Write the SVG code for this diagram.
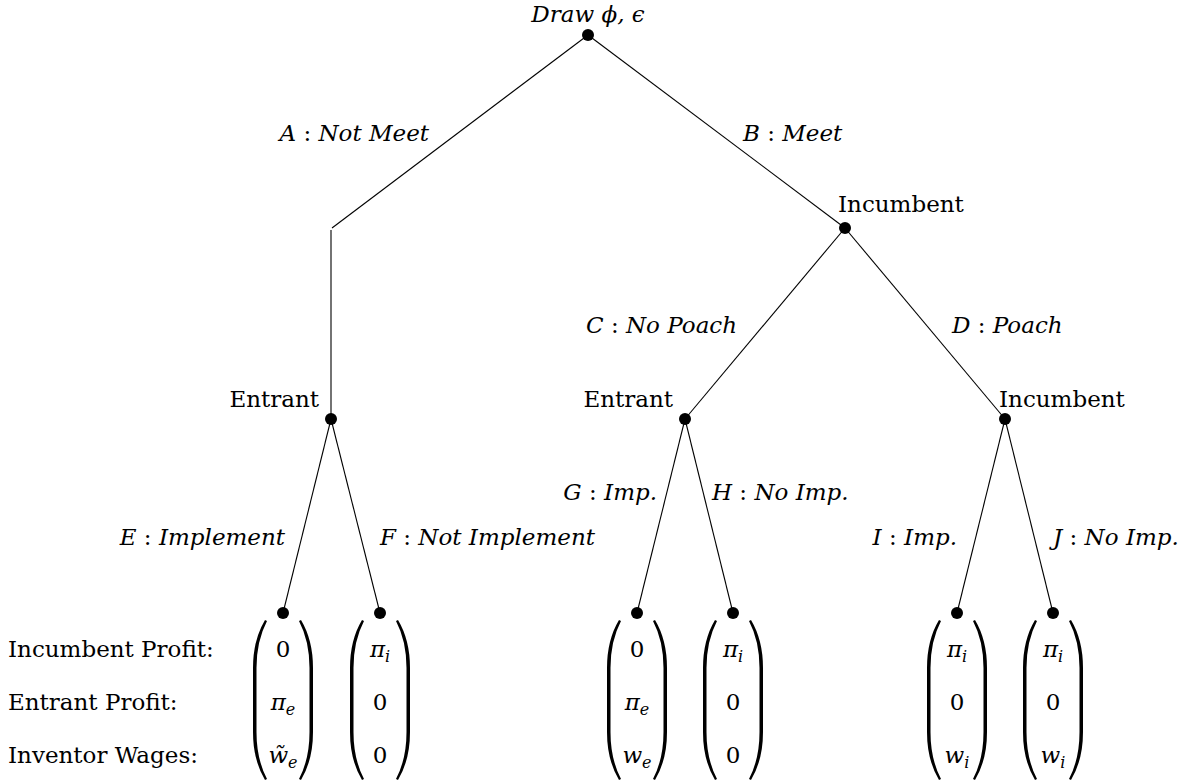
<svg xmlns="http://www.w3.org/2000/svg" xmlns:xlink="http://www.w3.org/1999/xlink" width="1193" height="782" viewBox="0 0 1193 782">
<style>
text{font-family:"DejaVu Serif","Liberation Serif",serif;font-size:23px;fill:#000}
.it{font-style:italic}
.rm{font-style:normal}
.sub{font-size:16px;font-style:italic}
.edge{stroke:#000;stroke-width:1.1;fill:none}
.dot{fill:#000}
</style>
<defs>
<path id="parens" fill="#000" d="M -18,620 Q -30,640 -30,668 L -30,732 Q -30,760 -18,780 L -16,779 Q -26.5,759 -26.5,732 L -26.5,668 Q -26.5,641 -16,621 Z M 18,620 Q 30,640 30,668 L 30,732 Q 30,760 18,780 L 16,779 Q 26.5,759 26.5,732 L 26.5,668 Q 26.5,641 16,621 Z"/>
</defs>
<rect width="1193" height="782" fill="#fff"/>
<g id="connectors">
<line class="edge" x1="588" y1="35" x2="332" y2="228"/>
<line class="edge" x1="331" y1="230" x2="331" y2="419"/>
<line class="edge" x1="588" y1="35" x2="845" y2="228"/>
<line class="edge" x1="845" y1="228" x2="685" y2="419"/>
<line class="edge" x1="845" y1="228" x2="1005" y2="419"/>
<line class="edge" x1="331" y1="419" x2="283" y2="613"/>
<line class="edge" x1="331" y1="419" x2="380" y2="613"/>
<line class="edge" x1="685" y1="419" x2="637" y2="613"/>
<line class="edge" x1="685" y1="419" x2="733" y2="613"/>
<line class="edge" x1="1005" y1="419" x2="957" y2="613"/>
<line class="edge" x1="1005" y1="419" x2="1053" y2="613"/>
</g>
<g id="edge-labels">
<text x="429" y="141" text-anchor="end"><tspan class="it">A</tspan><tspan class="rm"> : </tspan><tspan class="it">Not Meet</tspan></text>
<text x="743" y="141"><tspan class="it">B</tspan><tspan class="rm"> : </tspan><tspan class="it">Meet</tspan></text>
<text x="586" y="333"><tspan class="it">C</tspan><tspan class="rm"> : </tspan><tspan class="it">No Poach</tspan></text>
<text x="952" y="333"><tspan class="it">D</tspan><tspan class="rm"> : </tspan><tspan class="it">Poach</tspan></text>
<text x="285" y="545" text-anchor="end"><tspan class="it">E</tspan><tspan class="rm"> : </tspan><tspan class="it">Implement</tspan></text>
<text x="380" y="545"><tspan class="it">F</tspan><tspan class="rm"> : </tspan><tspan class="it">Not Implement</tspan></text>
<text x="657" y="500" text-anchor="end"><tspan class="it">G</tspan><tspan class="rm"> : </tspan><tspan class="it">Imp.</tspan></text>
<text x="712" y="500"><tspan class="it">H</tspan><tspan class="rm"> : </tspan><tspan class="it">No Imp.</tspan></text>
<text x="957" y="545" text-anchor="end"><tspan class="it">I</tspan><tspan class="rm"> : </tspan><tspan class="it">Imp.</tspan></text>
<text x="1053" y="545"><tspan class="it">J</tspan><tspan class="rm"> : </tspan><tspan class="it">No Imp.</tspan></text>
</g>
<g id="node-root">
<circle class="dot" cx="588" cy="35" r="6"/>
<text class="it" x="588" y="22" text-anchor="middle">Draw ϕ, ϵ</text>
</g>
<g id="node-incumbent-1">
<circle class="dot" cx="845" cy="228" r="6"/>
<text x="838" y="212">Incumbent</text>
</g>
<g id="node-entrant-left">
<circle class="dot" cx="331" cy="419" r="6"/>
<text x="319" y="407" text-anchor="end">Entrant</text>
</g>
<g id="node-entrant-mid">
<circle class="dot" cx="685" cy="419" r="6"/>
<text x="673" y="407" text-anchor="end">Entrant</text>
</g>
<g id="node-incumbent-2">
<circle class="dot" cx="1005" cy="419" r="6"/>
<text x="999" y="407">Incumbent</text>
</g>
<g id="row-labels">
<text x="8" y="657">Incumbent Profit:</text>
<text x="8" y="710">Entrant Profit:</text>
<text x="8" y="763">Inventor Wages:</text>
</g>
<g id="leaf-E">
<circle class="dot" cx="283" cy="613" r="6"/>
<use xlink:href="#parens" href="#parens" x="283"/>
<text x="283" y="657" text-anchor="middle">0</text>
<text x="283" y="710" text-anchor="middle"><tspan class="it">π</tspan><tspan class="sub" dy="5">e</tspan></text>
<text x="283" y="763" text-anchor="middle"><tspan class="it">w̃</tspan><tspan class="sub" dy="5">e</tspan></text>
</g>
<g id="leaf-F">
<circle class="dot" cx="380" cy="613" r="6"/>
<use xlink:href="#parens" href="#parens" x="380"/>
<text x="380" y="657" text-anchor="middle"><tspan class="it">π</tspan><tspan class="sub" dy="5">i</tspan></text>
<text x="380" y="710" text-anchor="middle">0</text>
<text x="380" y="763" text-anchor="middle">0</text>
</g>
<g id="leaf-G">
<circle class="dot" cx="637" cy="613" r="6"/>
<use xlink:href="#parens" href="#parens" x="637"/>
<text x="637" y="657" text-anchor="middle">0</text>
<text x="637" y="710" text-anchor="middle"><tspan class="it">π</tspan><tspan class="sub" dy="5">e</tspan></text>
<text x="637" y="763" text-anchor="middle"><tspan class="it">w</tspan><tspan class="sub" dy="5">e</tspan></text>
</g>
<g id="leaf-H">
<circle class="dot" cx="733" cy="613" r="6"/>
<use xlink:href="#parens" href="#parens" x="733"/>
<text x="733" y="657" text-anchor="middle"><tspan class="it">π</tspan><tspan class="sub" dy="5">i</tspan></text>
<text x="733" y="710" text-anchor="middle">0</text>
<text x="733" y="763" text-anchor="middle">0</text>
</g>
<g id="leaf-I">
<circle class="dot" cx="957" cy="613" r="6"/>
<use xlink:href="#parens" href="#parens" x="957"/>
<text x="957" y="657" text-anchor="middle"><tspan class="it">π</tspan><tspan class="sub" dy="5">i</tspan></text>
<text x="957" y="710" text-anchor="middle">0</text>
<text x="957" y="763" text-anchor="middle"><tspan class="it">w</tspan><tspan class="sub" dy="5">i</tspan></text>
</g>
<g id="leaf-J">
<circle class="dot" cx="1053" cy="613" r="6"/>
<use xlink:href="#parens" href="#parens" x="1053"/>
<text x="1053" y="657" text-anchor="middle"><tspan class="it">π</tspan><tspan class="sub" dy="5">i</tspan></text>
<text x="1053" y="710" text-anchor="middle">0</text>
<text x="1053" y="763" text-anchor="middle"><tspan class="it">w</tspan><tspan class="sub" dy="5">i</tspan></text>
</g>
</svg>
